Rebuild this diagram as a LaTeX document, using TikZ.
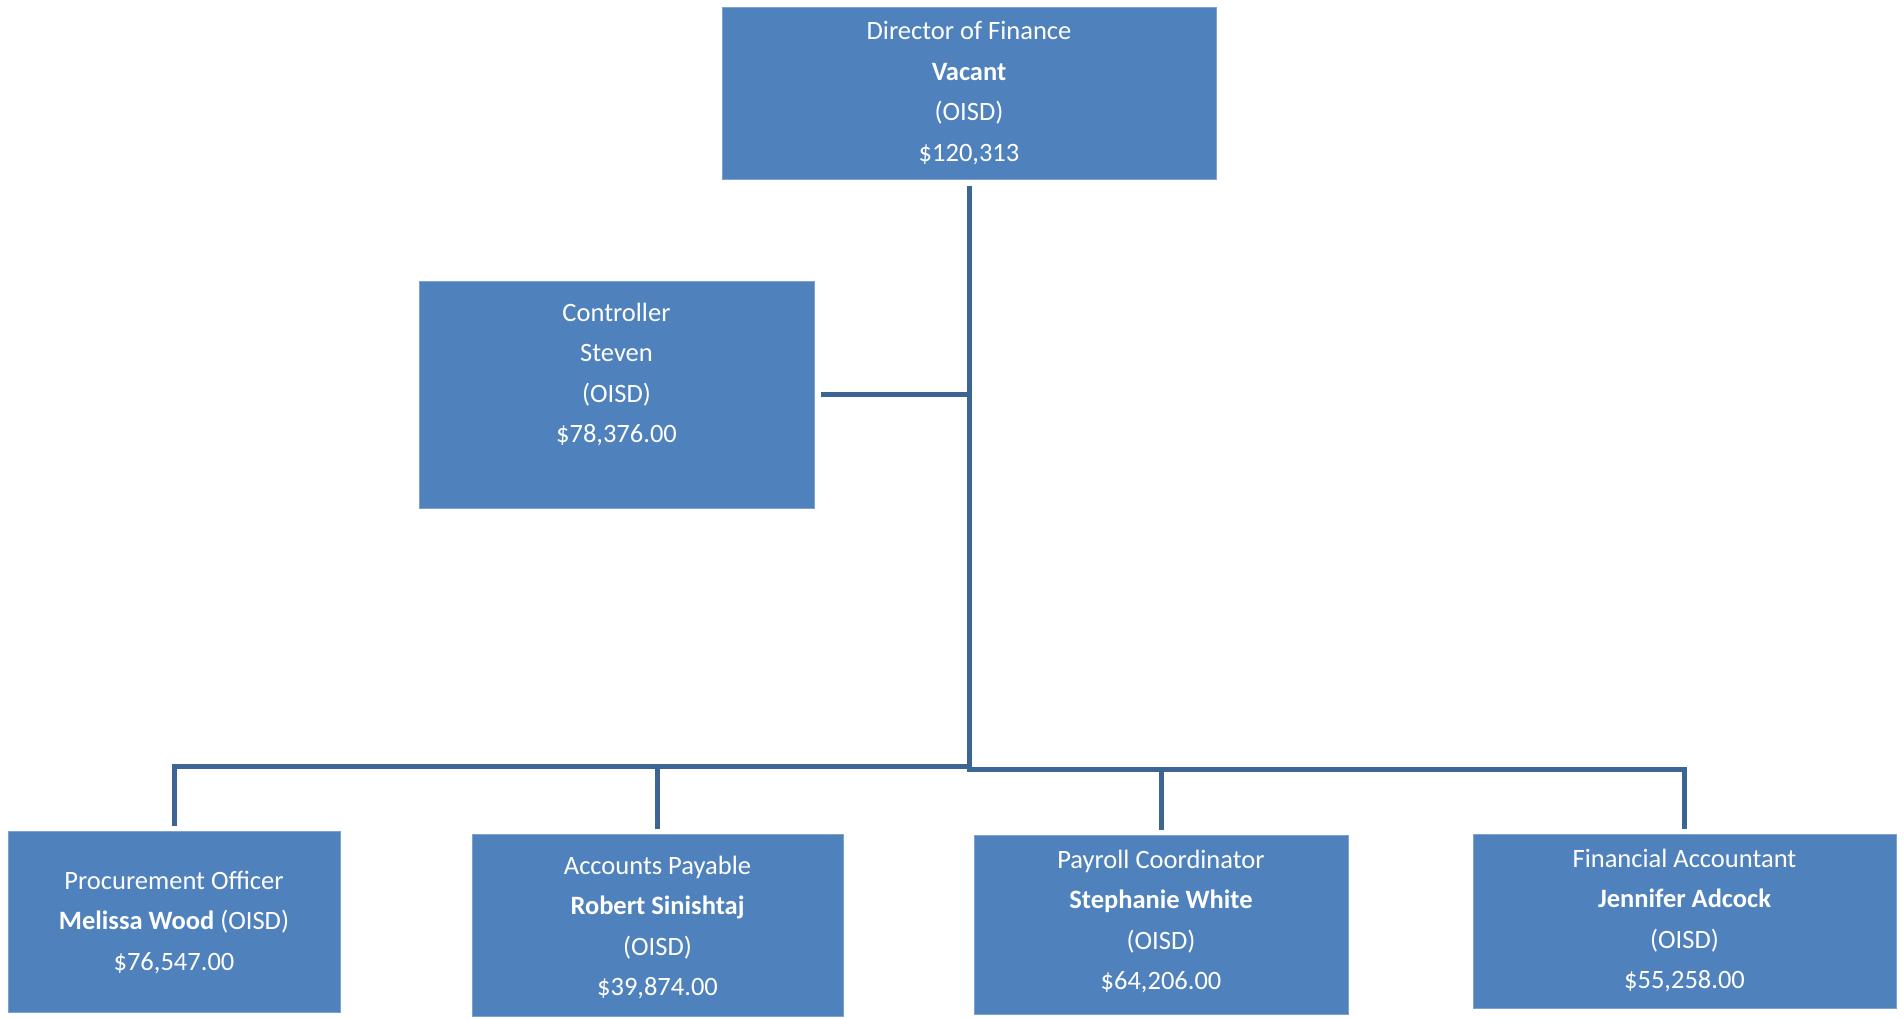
\documentclass[tikz,border=0pt]{standalone}
\usepackage{fontspec}
\setmainfont{Carlito}
\usepackage{xcolor}
\usetikzlibrary{positioning}

\definecolor{boxblue}{HTML}{4F81BD}
\definecolor{boxedge}{HTML}{7EA2CF}
\definecolor{linkblue}{HTML}{3D6594}

\begin{document}
\begin{tikzpicture}[x=1pt, y=-1pt,
        orgbox/.style={rectangle, fill=boxblue, draw=boxedge, line width=1pt, inner sep=0pt},
        boxtext/.style={align=center, text=white, inner sep=0pt, font=\fontsize{26.5}{40.5}\selectfont},
        link/.style={draw=linkblue, line width=5pt, line join=miter}
    ]
    \useasboundingbox (0,0) rectangle (1904,1018);

    % === Director (top) ===
    \node[orgbox, minimum width=494pt, minimum height=172pt] (dir) at (969,93) {};
    \node[boxtext, below=15pt of dir.north] (dirtext) {Director of Finance\\\textbf{Vacant}\\(OISD)\\\$120,313};

    % === Controller (middle left) ===
    \node[orgbox, minimum width=395pt, minimum height=227pt] (ctrl) at (616.5,394.5) {};
    \node[boxtext, below=22pt of ctrl.north] (ctrltext) {Controller\\Steven\\(OISD)\\\$78,376.00};

    % === Staff row (bottom) ===
    \node[orgbox, minimum width=332pt, minimum height=181pt] (proc) at (174,921.5) {};
    \node[boxtext, below=40pt of proc.north] (proctext) {Procurement Officer\\\textbf{Melissa Wood} (OISD)\\\$76,547.00};

    \node[orgbox, minimum width=371pt, minimum height=182pt] (pay) at (657.5,925) {};
    \node[boxtext, below=22pt of pay.north] (paytext) {Accounts Payable\\\textbf{Robert Sinishtaj}\\(OISD)\\\$39,874.00};

    \node[orgbox, minimum width=374pt, minimum height=179pt] (roll) at (1161,924.5) {};
    \node[boxtext, below=15pt of roll.north] (rolltext) {Payroll Coordinator\\\textbf{Stephanie White}\\(OISD)\\\$64,206.00};

    \node[orgbox, minimum width=423pt, minimum height=174pt] (acct) at (1684.5,921) {};
    \node[boxtext, below=15pt of acct.north] (accttext) {Financial Accountant\\\textbf{Jennifer Adcock}\\(OISD)\\\$55,258.00};

    % bus levels (left and right halves sit slightly apart)
    \coordinate (busl) at (0,766.5);
    \coordinate (busr) at (0,769.5);

    % === Connectors ===
    \draw[link] ([yshift=-6pt]dir.south) -- ([yshift=-2.5pt]dir.south |- busr);
    \draw[link] ([xshift=6pt]ctrl.east) -- (ctrl.east -| dir.south);

    \draw[link] (dir.south |- busl) -| ([yshift=5pt]proc.north);
    \draw[link] (dir.south |- busl) -| ([yshift=5pt]pay.north);
    \draw[link] (dir.south |- busr) -| ([yshift=5pt]roll.north);
    \draw[link] (dir.south |- busr) -| ([yshift=5pt]acct.north);

\end{tikzpicture}
\end{document}
